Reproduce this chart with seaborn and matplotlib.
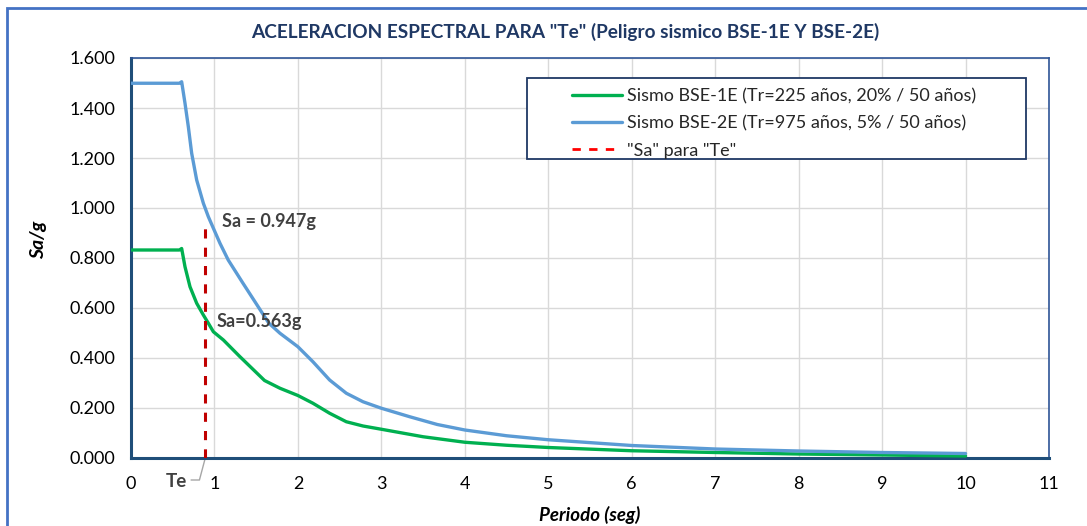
import matplotlib
matplotlib.use("Agg")
import numpy as np
import pandas as pd
import seaborn as sns
import matplotlib.pyplot as plt
from matplotlib.lines import Line2D
from matplotlib.patches import Rectangle

# ---------------- data ----------------
title = 'ACELERACION ESPECTRAL PARA "Te" (Peligro sismico BSE-1E Y BSE-2E)'
label_1e = "Sismo BSE-1E (Tr=225 años, 20% / 50 años)"
label_2e = "Sismo BSE-2E (Tr=975 años, 5% / 50 años)"
label_te = '"Sa" para "Te"'

t_1e = [0, 0.58, 0.607, 0.647, 0.707, 0.787, 0.867, 0.927, 0.987, 1.107, 1.3, 1.6, 1.785,
        2.0, 2.18, 2.38, 2.58, 2.78, 3.0, 3.5, 4.0, 4.5, 5.0, 6.0, 7.0, 8.0, 9.0, 10.0]
sa_1e = [0.832, 0.832, 0.838, 0.765, 0.685, 0.619, 0.572, 0.539, 0.505, 0.472, 0.407, 0.31,
         0.279, 0.25, 0.219, 0.179, 0.145, 0.128, 0.115, 0.085, 0.063, 0.051, 0.042, 0.029,
         0.022, 0.016, 0.012, 0.008]

t_2e = [0, 0.58, 0.607, 0.647, 0.687, 0.727, 0.787, 0.867, 0.927, 0.987, 1.066, 1.165, 1.34,
        1.65, 1.785, 2.0, 2.18, 2.38, 2.58, 2.78, 3.0, 3.34, 3.67, 4.0, 4.5, 5.0, 6.0, 7.0,
        8.0, 9.0, 10.0]
sa_2e = [1.499, 1.499, 1.505, 1.419, 1.325, 1.219, 1.112, 1.019, 0.965, 0.919, 0.859, 0.792,
         0.70, 0.54, 0.499, 0.445, 0.385, 0.312, 0.259, 0.225, 0.199, 0.165, 0.134, 0.112,
         0.089, 0.073, 0.05, 0.036, 0.028, 0.022, 0.018]

te = 0.89
sa_te_1e = 0.563
sa_te_2e = 0.947

x_ticks = list(range(0, 12))
y_ticks = [0.0, 0.2, 0.4, 0.6, 0.8, 1.0, 1.2, 1.4, 1.6]

# ---------------- style ----------------
sns.set_theme(style="whitegrid")
plt.rcParams["font.family"] = ["Lato", "DejaVu Sans"]

c_green = "#00B050"
c_blue = "#5B9BD5"
c_red = "#C00000"
navy = "#1F3864"

df = pd.concat([
    pd.DataFrame({"T": t_1e, "Sa": sa_1e, "serie": label_1e}),
    pd.DataFrame({"T": t_2e, "Sa": sa_2e, "serie": label_2e}),
])
df_te = pd.DataFrame({"T": [te, te], "Sa": [0.0, sa_te_2e]})

W, H = 1087, 526
fig = plt.figure(figsize=(W / 100, H / 100), dpi=100)
fig.patch.set_facecolor("white")
ax = fig.add_axes([131 / W, 1 - 458 / H, 918 / W, 400 / H])
ax.set_facecolor("white")

sns.lineplot(data=df, x="T", y="Sa", hue="serie", palette=[c_green, c_blue],
             estimator=None, sort=True, linewidth=2.4, legend=False, ax=ax, zorder=3)
sns.lineplot(data=df_te, x="T", y="Sa", estimator=None, sort=False, color=c_red,
             linewidth=2.2, linestyle=(0, (3, 3)), legend=False, ax=ax, zorder=4)

ax.set_xlim(0, 11)
ax.set_ylim(0, 1.6)
ax.set_xticks(x_ticks)
ax.set_yticks(y_ticks)
ax.set_yticklabels([f"{v:.3f}" for v in y_ticks])
ax.set_xlabel("")
ax.set_ylabel("")
ax.grid(True, color="#D9D9D9", linewidth=1.0)
ax.set_axisbelow(True)
ax.tick_params(axis="both", length=0, labelsize=13, colors="black")
ax.tick_params(axis="y", pad=11)
ax.tick_params(axis="x", pad=13)
for s in ["left", "bottom"]:
    ax.spines[s].set_color("#1F4E79")
    ax.spines[s].set_linewidth(2.2)
for s in ["top", "right"]:
    ax.spines[s].set_color("#2F5597")
    ax.spines[s].set_linewidth(1.2)

# legend box + legend
ax.add_patch(Rectangle(((527 - 131) / 918, (458 - 159) / 400), 499 / 918, 81 / 400,
                       transform=ax.transAxes, facecolor="white", edgecolor=navy,
                       linewidth=1.3, zorder=5))
handles = [Line2D([], [], color=c_green, lw=2.4),
           Line2D([], [], color=c_blue, lw=2.4),
           Line2D([], [], color="#FF0000", lw=2.0, linestyle=(0, (3, 3)))]
leg = ax.legend(handles, [label_1e, label_2e, label_te], loc="upper left",
                bbox_to_anchor=((572 - 131) / 918, (458 - 88) / 400), frameon=False,
                borderpad=0, borderaxespad=0, handlelength=2.75, handletextpad=0.3,
                labelspacing=0.62, fontsize=13.0)
leg.set_zorder(6)

# annotations
ax.text(1.09, 0.944, "Sa = 0.947g", fontsize=13, fontweight="bold", color="#404040",
        va="center", ha="left", zorder=7)
ax.text(1.03, 0.548, "Sa=0.563g", fontsize=13, fontweight="bold", color="#404040",
        va="center", ha="left", zorder=7)
ax.plot([te, te - 0.07, te - 0.17], [0, -0.088, -0.088], color="#A6A6A6", lw=1,
        clip_on=False)
ax.text(te - 0.22, -0.095, "Te", fontsize=13.5, fontweight="bold", color="#404040",
        ha="right", va="center")

# titles
fig.text(565 / W, 1 - 32 / H, title, ha="center", va="center", fontsize=13.7,
         fontweight="bold", color=navy)
fig.text(39 / W, 1 - 240 / H, "Sa/g", rotation=90, ha="center", va="center",
         fontsize=14, fontweight="bold", style="italic", color="black")
fig.text(590 / W, 1 - 515 / H, "Periodo (seg)", ha="center", va="center",
         fontsize=13.5, fontweight="bold", style="italic", color="black")

# outer chart frame
fig.patches.append(Rectangle((7 / W, -0.1), 1.2, 1 - 8 / H + 0.1, transform=fig.transFigure,
                             fill=False, edgecolor="#4472C4", linewidth=2))

fig.savefig("out.png", dpi=100, facecolor="white")
